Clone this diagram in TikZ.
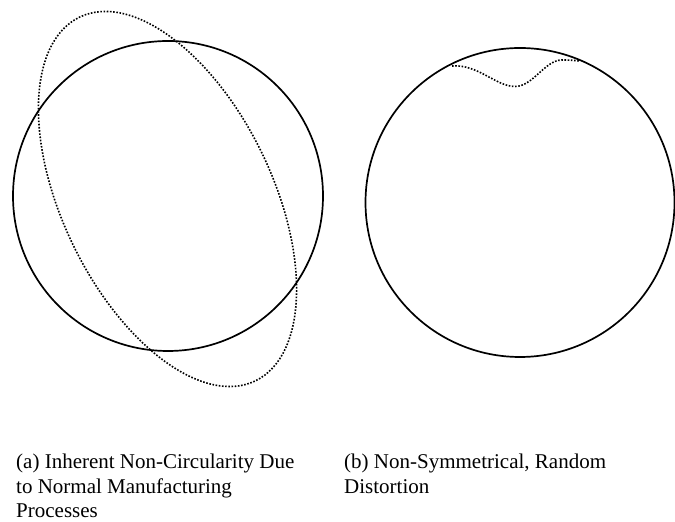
\documentclass[tikz,border=0pt]{standalone}
\usepackage{fontspec}
\setmainfont{Liberation Serif}
\usepackage{tikz}
\usetikzlibrary{positioning}

\begin{document}
\begin{tikzpicture}[x=1bp,y=1bp,
  rim/.style={draw=black,line width=1.7bp},
  dev/.style={draw=black,line width=1.6bp,dash pattern=on 1.6bp off 1.6bp},
  caption/.style={anchor=base west,inner sep=0pt,align=left,
                  font=\fontsize{21bp}{24.3bp}\selectfont}
]
  \useasboundingbox (0,0) rectangle (675,522);
  % (a) ideal circle and tilted out-of-round shape
  \coordinate (ca) at (168,326);
  \draw[rim] (ca) circle (155);
  \draw[dev,rotate around={25.8:(167.5,323)}] (167.5,323) ellipse (105 and 202);
  % (b) ideal circle with local dent
  \coordinate (cb) at (520,319.5);
  \draw[rim] (cb) circle (154.5);
  \draw[dev] (452,456) .. controls (478,458) and (496,435.5) .. (515,435.5)
    .. controls (533,435.5) and (545,462) .. (562,462)
    .. controls (570,462) and (575,461.5) .. (580,461);
  % captions (base = last line)
  \node[caption] (capa) at (16,4.5) {(a) Inherent Non-Circularity Due\\to Normal Manufacturing\\Processes};
  \node[caption] (capb) at (344,28.8) {(b) Non-Symmetrical, Random\\Distortion};
\end{tikzpicture}
\end{document}
